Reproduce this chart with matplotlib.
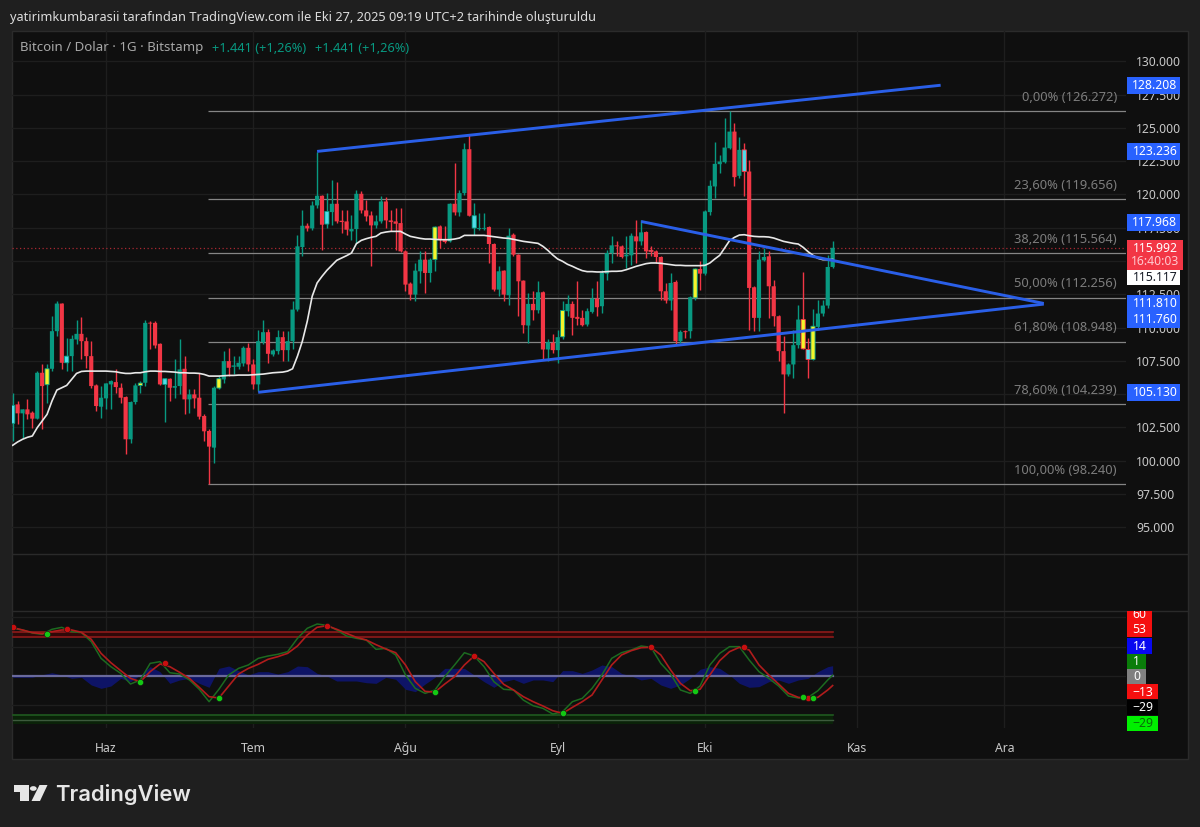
#!/usr/bin/env python3
import matplotlib
matplotlib.use('Agg')
import matplotlib.pyplot as plt
import matplotlib.dates as mdates
import numpy as np
import pandas as pd
from matplotlib.lines import Line2D
from matplotlib.patches import Circle, Polygon, Rectangle

# daily candles, May 13 -> Oct 27 2025
opens = [102800,104225,103550,103850,103600,103150,106600,105700,106900,109725,
         111800,107350,107850,109100,109525,108975,107850,105650,104050,104675,
         105725,105900,105475,104775,101600,104400,105650,105850,110350,110350,
         108775,105725,106150,105475,105600,106900,104600,104975,104725,103350,
         102225,100975,105450,106100,107475,107050,107050,107300,108475,107225,
         105725,108900,109650,107975,108225,109275,108300,108975,111350,116050,
         117650,117450,119175,119900,117775,118675,119300,118025,117975,117225,
         117400,120050,118800,118425,117675,117975,119475,118050,117975,117850,
         115725,113300,112475,114225,115100,114100,115100,117600,116650,116475,
         119300,118650,120100,123400,117475,117400,117425,117550,116275,112850,
         114275,112425,116975,115475,113525,110150,111775,111300,112650,108350,
         108850,108300,109300,111225,111775,110800,110725,110225,111175,112175,
         111600,114050,115600,116175,116100,115350,115425,116850,116475,117175,
         115800,115725,115300,112725,112025,113425,108975,109725,109725,112225,
         114400,114050,118675,120600,122275,122425,123475,124725,121400,123350,
         121725,113025,110725,115050,115350,113100,110850,108225,106475,107225,
         108675,110600,108350,107600,110050,111050,111650,114550]
closes = [104150,103550,103850,103475,103150,106600,105600,106900,109725,111800,
          107350,107850,109150,109525,108975,107850,105600,104100,104725,105800,
          105975,105525,104725,101600,104400,105650,105825,110350,110300,108650,
          105725,106150,105475,105600,106850,104600,104975,104675,103300,102200,
          101050,105475,106150,107475,106975,107150,107350,108475,107225,105725,
          108975,109650,108025,108275,109275,108300,108975,111350,116100,117650,
          117450,119175,119900,117725,118725,119300,117975,117925,117350,117400,
          120050,118800,118350,117675,117975,119475,118050,117925,117800,115725,
          113225,112475,114275,115100,114100,115100,117550,116600,116425,119300,
          118650,120100,123400,118400,118400,117475,117475,116275,112850,114225,
          112475,116900,115475,113475,110175,111775,111300,112650,108350,108900,
          108300,109275,111275,111775,110725,110650,110175,111225,112175,111525,
          114100,115600,116175,116100,115300,115475,116900,116475,117150,115725,
          115725,115300,112725,112025,113350,108975,109675,109650,112275,114400,
          114050,118725,120650,122300,122475,123525,124725,121300,123350,121725,
          112975,110725,115100,115300,113100,110850,108225,106475,107225,108675,
          110600,108400,107600,110100,111050,111650,114550,115992]
highs = [105100,104475,103850,104650,103725,106725,107225,107225,110850,111975,
         111850,109225,109475,110600,110800,109300,108975,105725,105600,105850,
         106025,106850,105850,104850,104475,105850,105975,110600,110475,110475,
         108850,106225,106225,107600,109100,107850,105350,105350,106600,103475,
         102350,105600,106350,108225,108475,107850,107850,108600,108850,107600,
         109850,110600,109900,108350,109850,109725,109725,111975,116975,118850,
         117850,119475,123225,119975,120100,121100,120925,118850,118850,118475,
         120350,120225,119600,118725,118475,119850,119800,118850,118975,118975,
         115850,113400,114850,115725,115725,115225,117650,117725,117650,119350,
         122350,120350,123850,124475,119350,118600,118600,117650,116350,114600,
         114350,117475,117100,115550,113600,112600,112725,113475,112725,109100,
         109525,109850,111975,112475,111975,113475,111350,111475,112975,113475,
         114350,115850,116850,116475,116225,116850,117100,118100,118050,117225,
         116100,115850,115350,113350,114100,113600,109850,109850,112350,114475,
         114975,118850,121100,123975,122975,125725,126272,125350,124350,123850,
         122600,113100,115725,115975,115725,113600,110975,109350,107350,109850,
         111725,114175,109225,111400,112100,112100,115475,116475]
lows = [101475,102725,101725,103100,102475,103100,102350,104350,106725,109350,
        106850,106725,106725,108725,107600,106975,105475,103725,103225,103850,
        103850,105100,104350,100475,101350,104225,105100,105600,108350,108475,
        105650,102900,104475,104725,104975,103475,103600,103975,103100,101475,
        98240,99800,105350,105850,106350,106475,106850,107100,106725,105350,
        105225,108725,107350,107850,107975,107475,107475,108350,111225,115350,
        117225,117300,118975,115800,117475,117725,117850,117100,116975,116600,
        116350,118600,117975,114600,117475,117850,117475,117225,115850,115650,
        112725,112050,111975,113350,112600,113400,114225,115975,116350,116400,
        118475,118350,119975,118350,116975,117350,117350,114850,112725,112350,
        111975,111725,115350,110850,109600,108850,110600,111100,107600,107475,
        108100,107300,109100,110850,109475,110225,110100,110100,111100,110850,
        111100,113600,114850,115350,115225,114475,114725,114850,116225,115225,
        115350,114850,112100,111850,111350,108725,108850,109225,109225,112100,
        112850,113975,118475,119725,121600,122350,123400,120650,121225,119850,
        109850,109725,109725,114975,110725,110100,107475,103600,106350,106225,
        108475,108350,106225,107550,109850,110850,111475,114475]
ma_line = [101150,101400,101600,101750,101850,102475,102975,103475,104475,105300,
           105475,105650,106100,106550,106700,106725,106725,106725,106725,106725,
           106700,106675,106600,106550,106550,106600,106600,106675,106725,106725,
           106700,106700,106675,106650,106600,106600,106575,106575,106550,106475,
           106350,106350,106350,106375,106400,106400,106425,106425,106425,106450,
           106475,106500,106550,106600,106625,106650,106725,106900,107850,108975,
           110475,112350,113350,113850,114300,114675,115050,115225,115400,115600,
           116300,116550,116675,116775,116850,117100,117175,117225,117225,117225,
           117025,116850,116775,116700,116650,116650,116625,116600,116600,116600,
           116650,116725,116925,116925,116925,116925,116925,116875,116825,116775,
           116725,116700,116625,116550,116475,116425,116375,116325,116100,115800,
           115450,115150,114975,114750,114600,114425,114275,114200,114200,114175,
           114175,114200,114225,114225,114250,114350,114475,114600,114700,114800,
           114850,114850,114825,114775,114725,114675,114675,114650,114650,114650,
           114650,114675,114850,115150,115425,115975,116525,116775,116950,116975,
           116900,116850,116825,116825,116800,116725,116600,116475,116400,116325,
           116275,116025,115700,115425,115200,115100,115100,115117]

# candle numbers (from 0) the indicator paints
cyan_candles = [0, 11, 31, 64, 94, 130, 149, 162]
yellow_candles = [7, 26, 42, 86, 112, 139, 161, 163]

# oscillator, read every second candle plus the last one
osc_candles = list(range(0, 168, 2)) + [167]
wt_green = [64.9,62.6,58.5,56.7,63.5,66.2,60.3,59.0,46.7,24.0,
            12.7,3.6,-10.9,-5.4,17.2,19.5,4.5,2.7,-5.4,-18.1,
            -34.9,-18.1,1.4,10.4,15.0,24.0,27.2,29.5,33.1,51.2,
            64.9,70.7,68.9,62.6,54.4,51.2,49.0,36.3,37.6,28.6,
            1.4,-16.8,-23.6,-19.0,-0.9,15.0,31.7,27.2,12.7,-7.7,
            -18.1,-19.0,-32.7,-40.4,-44.0,-51.7,-48.5,-34.9,-30.4,-16.8,
            1.4,24.0,31.7,35.4,40.8,39.0,17.2,2.7,-19.0,-23.6,
            -13.6,15.0,30.8,39.9,39.9,21.8,5.9,-3.2,-13.6,-27.2,
            -29.9,-29.0,-20.0,-5.4,1.0]
wt_red = [65.8,62.6,59.0,57.6,60.3,62.6,62.6,59.4,49.9,30.8,
          18.1,7.3,-3.2,-7.7,5.9,16.3,12.7,5.0,-3.2,-15.4,
          -28.1,-29.9,-13.6,2.7,10.4,15.9,22.7,26.3,30.8,40.8,
          55.8,66.2,68.5,63.5,58.0,52.6,49.0,42.6,36.7,31.7,
          15.0,-7.7,-20.9,-21.8,-10.9,-0.9,15.0,27.2,19.5,3.6,
          -11.3,-19.0,-28.1,-34.9,-40.8,-47.2,-50.8,-42.6,-34.9,-25.8,
          -5.4,15.0,28.6,34.5,38.5,39.0,28.6,8.2,-10.0,-20.0,
          -18.1,1.4,20.9,33.1,39.0,35.4,15.0,1.4,-10.9,-23.6,
          -29.0,-30.8,-29.0,-19.0,-13.0]
wt_area = [-1.8,-1.8,-1.8,1.8,4.5,1.4,-3.2,-1.8,-12.2,-16.8,
           -13.6,-3.2,-7.7,1.4,12.7,5.9,-10.0,-5.4,-3.2,-10.0,
           -15.4,10.4,13.6,7.3,1.4,5.9,5.9,2.7,5.9,13.6,
           12.7,3.6,0.0,-6.8,-6.8,-6.8,-9.1,-10.0,-1.8,-4.5,
           -18.1,-21.3,-10.9,-1.8,10.4,10.4,10.4,1.4,-7.7,-15.4,
           -7.7,-4.5,-10.0,-5.4,-5.4,-7.7,7.3,7.3,3.6,8.2,
           15.0,12.7,3.6,0.0,-5.4,-3.2,-12.2,-16.8,-12.2,-3.2,
           9.1,12.7,10.4,1.4,-10.0,-15.4,-14.5,-7.7,-5.4,-10.0,
           -5.4,-3.2,5.9,12.7,14.0]
red_cross_candles = [0, 11, 31, 64, 94, 130, 149, 162]
red_cross_values = [66.0, 63.5, 17.2, 68.5, 27.2, 39.0, 39.0, -30.4]
green_cross_candles = [7, 26, 42, 86, 112, 139, 161, 163]
green_cross_values = [56.7, -8.2, -29.9, -21.3, -50.8, -20.4, -29.0, -29.9]

fib_levels = [126272, 119656, 115564, 112256, 108948, 104239, 98240]
fib_labels = ['0,00% (126.272)', '23,60% (119.656)', '38,20% (115.564)', '50,00% (112.256)',
              '61,80% (108.948)', '78,60% (104.239)', '100,00% (98.240)']
osc_levels_red = [60, 53]
osc_levels_green = [-53, -60]
month_dates = ['2025-06-01', '2025-07-01', '2025-08-01', '2025-09-01', '2025-10-01', '2025-11-01', '2025-12-01']
month_labels = ['Haz', 'Tem', 'Ağu', 'Eyl', 'Eki', 'Kas', 'Ara']
price_ticks = np.arange(95000, 130001, 2500)
osc_grid = [80, 40, 0, -40]
last_price = 115992

W, H = 1200, 827
OUTER = '#1f1f1f'
PANE = '#0f0f0f'
GRID = '#1e1e1e'
UP = '#089981'
DOWN = '#f23645'
BLUE = '#2a5fe8'
FLAG_BLUE = '#2962ff'
FONT = ['Noto Sans', 'DejaVu Sans']
plt.rcParams['font.family'] = FONT

dates = pd.date_range('2025-05-13', periods=len(opens))
opens = np.array(opens)
closes = np.array(closes)
highs = np.array(highs)
lows = np.array(lows)
months = pd.to_datetime(month_dates)
osc_dates = dates[osc_candles]


def pane(x0, y0, x1, y1):
    # pixel box, y from the top of the picture
    ax = fig.add_axes([x0 / W, 1 - y1 / H, (x1 - x0) / W, (y1 - y0) / H])
    ax.patch.set_alpha(0)
    for s in ax.spines.values():
        s.set_visible(False)
    return ax


def sep(x0, y0, x1, y1, color='#2a2a2a', lw=1):
    fig.add_artist(Line2D([x0 / W, x1 / W], [1 - y0 / H, 1 - y1 / H], color=color, lw=lw,
                          transform=fig.transFigure, zorder=1))


def flag(x0, y0, x1, y1, color):
    r = Rectangle((x0 / W, 1 - y1 / H), (x1 - x0) / W, (y1 - y0) / H, facecolor=color, lw=0,
                  transform=fig.transFigure, zorder=5)
    fig.add_artist(r)
    return r


def flag_text(x, y, s, color='white', size=8.8, ha='center', weight='medium'):
    return fig.text(x / W, 1 - y / H, s, color=color, fontsize=size, ha=ha, va='center',
                    fontweight=weight, zorder=6)


fig = plt.figure(figsize=(12, 8.27), dpi=100, facecolor=OUTER)
fig.add_artist(Rectangle((12 / W, 1 - 759 / H), 1176 / W, 728 / H, facecolor=PANE, edgecolor='#2b2b2b',
                         lw=1, transform=fig.transFigure, zorder=-1))

ax = pane(12, 31, 1126, 554)
ax_gap = pane(12, 554, 1126, 611)
ax_osc = pane(12, 611, 1126, 728)

start = mdates.date2num(dates[0])
xlim = (start - 0.14, start + 226.75)
for a in (ax, ax_gap, ax_osc):
    a.set_xlim(*xlim)
    a.set_xticks(mdates.date2num(months))
    a.tick_params(axis='x', length=0, labelbottom=False)
    a.tick_params(axis='y', length=0)
    a.grid(axis='x', color=GRID, lw=1)
    a.set_axisbelow(True)
ax_gap.set_yticks([])

# main pane
ax.set_ylim(92980, 132284)
ax.set_yticks(price_ticks)
ax.yaxis.tick_right()
ax.set_yticklabels(['{:,}'.format(int(v)).replace(',', '.') for v in price_ticks])
ax.tick_params(axis='y', colors='#c8c8c8', labelsize=8.8, pad=7.5)
ax.grid(axis='y', color=GRID, lw=1)

ax.hlines(fib_levels, mdates.date2num(dates[40]) - 0.2, xlim[1], color='#858585', lw=0.9, zorder=2)
for lev, lab in zip(fib_levels, fib_labels):
    ax.annotate(lab, xy=(1, lev), xycoords=ax.get_yaxis_transform(), xytext=(-6.5, 10),
                textcoords='offset points', ha='right', va='center', color='#7d7d7d', fontsize=9.3)

ax.axhline(last_price, color='#a82832', lw=0.9, ls=(0, (1, 2)), zorder=2)

colors = np.where(closes >= opens, UP, DOWN)
ax.vlines(dates, lows, highs, colors=colors, lw=1, zorder=3)
body_low = np.minimum(opens, closes)
body_h = np.maximum(np.abs(closes - opens), 60)
width = 0.85
ax.bar(dates, body_h, bottom=body_low, width=width, color=colors, lw=0, zorder=4, snap=False)
ax.bar(dates[cyan_candles], body_h[cyan_candles], bottom=body_low[cyan_candles], width=width, color='#4fdde8',
       edgecolor=colors[cyan_candles], lw=0.6, zorder=5, snap=False)
ax.bar(dates[yellow_candles], body_h[yellow_candles], bottom=body_low[yellow_candles], width=width, color='#f5f52a',
       edgecolor=colors[yellow_candles], lw=0.6, zorder=5, snap=False)

ax.plot(dates, ma_line, color='#e8e8e8', lw=1.2, zorder=6)

# drawn trend lines
trend_a = pd.to_datetime(['2025-07-14', '2025-11-18'])
trend_b = pd.to_datetime(['2025-07-02', '2025-12-09'])
trend_c = pd.to_datetime(['2025-09-18', '2025-12-09'])
ax.plot(trend_a, [123236, 128208], color=BLUE, lw=2.1, solid_capstyle='butt', zorder=7)
ax.plot(trend_b, [105130, 111760], color=BLUE, lw=2.1, solid_capstyle='butt', zorder=7)
ax.plot(trend_c, [117968, 111810], color=BLUE, lw=2.1, solid_capstyle='butt', zorder=7)

# oscillator pane
ax_osc.set_ylim(-70.7, 88.4)
ax_osc.set_yticks(osc_grid)
ax_osc.tick_params(axis='y', labelright=False, labelleft=False)
ax_osc.grid(axis='y', color=GRID, lw=1)
ends = [dates[0], dates[-1]]
ax_osc.fill_between(ends, osc_levels_red[1], osc_levels_red[0], color='#300808', lw=0, zorder=2)
ax_osc.fill_between(ends, osc_levels_green[0], osc_levels_green[1] - 5.5, color='#0a2208', lw=0, zorder=2)
ax_osc.fill_between(osc_dates, 0, wt_area, color='#0e1466', lw=0, zorder=2.5)
for lev in osc_levels_red:
    ax_osc.plot(ends, [lev, lev], color='#8e1a1a', lw=1.2, zorder=3)
ax_osc.plot(ends, [osc_levels_green[0]] * 2, color='#1f5a1f', lw=1.2, zorder=3)
ax_osc.plot(ends, [osc_levels_green[1]] * 2, color='#3d5a3d', lw=1, zorder=3)
ax_osc.plot(ends, [0, 0], color='#6a6a9c', lw=1.6, zorder=3)
ax_osc.plot(osc_dates, wt_green, color='#1c6b20', lw=1.1, zorder=4)
ax_osc.plot(osc_dates, wt_red, color='#b01c1c', lw=1.2, zorder=5)
ax_osc.scatter(dates[red_cross_candles], red_cross_values, s=20, color='#c80f0f', edgecolors='#111111', lw=0.4, zorder=6)
ax_osc.scatter(dates[green_cross_candles], green_cross_values, s=20, color='#14c814', edgecolors='#111111', lw=0.4, zorder=6)

ax_osc.tick_params(axis='x', labelbottom=True, colors='#c8c8c8', labelsize=8.8, pad=10)
ax_osc.set_xticklabels(month_labels)

# pane separators
sep(12, 554, 1188, 554)
sep(12, 611, 1188, 611)

# price flags
flag(1127, 77, 1180, 94, FLAG_BLUE)
flag_text(1155, 85.5, '128.208')
flag(1127, 143, 1180, 160, FLAG_BLUE)
flag_text(1155, 151.5, '123.236')
flag(1127, 214, 1180, 231, FLAG_BLUE)
flag_text(1155, 222.5, '117.968')
flag(1127, 240, 1183, 270, '#f23645')
flag_text(1155, 248.5, '115.992')
flag_text(1155, 261.5, '16:40:03', color='#ffc9cf')
flag(1127, 270, 1180, 285, 'white')
flag_text(1155, 277.5, '115.117', color='#131722')
flag(1127, 295, 1180, 328, FLAG_BLUE)
flag_text(1155, 303.5, '111.810')
flag_text(1155, 319.5, '111.760')
flag(1127, 384, 1180, 401, FLAG_BLUE)
flag_text(1155, 392.5, '105.130')

# oscillator flags
box60 = flag(1127, 611, 1152, 623, '#f50f0f')
t60 = flag_text(1139.5, 614.5, '60')
t60.set_clip_path(box60)
flag(1127, 622, 1152, 637, '#f50f0f')
flag_text(1139.5, 629.5, '53')
flag(1127, 638, 1152, 654, '#0808f0')
flag_text(1139.5, 646, '14')
flag(1127, 654, 1146, 669, '#0a7d0a')
flag_text(1136.5, 661.5, '1')
flag(1127, 669, 1146, 684, '#808080')
flag_text(1136.5, 676.5, '0')
flag(1127, 684, 1158, 699, '#f50f0f')
flag_text(1142.5, 692, '−13')
flag(1127, 700, 1158, 715, '#000000')
flag_text(1142.5, 707.5, '−29')
flag(1127, 716, 1158, 731, '#00f000')
flag_text(1142.5, 723.5, '−29', color='#0a6a0a')

# header and legend
flag_text(10, 18, 'yatirimkumbarasii tarafından TradingView.com ile Eki 27, 2025 09:19 UTC+2 tarihinde oluşturuldu',
          color='#dcdcdc', size=9.2, ha='left', weight='normal')
flag_text(20, 48, 'Bitcoin / Dolar · 1G · Bitstamp', color='#a8a8a8', size=9.55, ha='left', weight='normal')
flag_text(212, 48, '+1.441 (+1,26%)', color=UP, size=9.2, ha='left', weight='normal')
flag_text(315, 48, '+1.441 (+1,26%)', color=UP, size=9.2, ha='left', weight='normal')

# logo
logo = '#e6e6e6'
def logo_pts(pts):
    return [(x / W, 1 - y / H) for x, y in pts]
fig.add_artist(Polygon(logo_pts([(13.5, 785), (28.5, 785), (28.5, 801), (20, 801), (20, 791.7), (13.5, 791.7)]),
                       facecolor=logo, lw=0, transform=fig.transFigure))
fig.add_artist(Polygon(logo_pts([(39.5, 785), (47.5, 785), (40, 801), (31.5, 801)]),
                       facecolor=logo, lw=0, transform=fig.transFigure))
fig.add_artist(Circle((33.3 / W, 1 - 788.5 / H), 3.4 / W, facecolor=logo, lw=0, transform=fig.transFigure))
fig.text(55 / W, 1 - 801 / H, 'TradingView', color=logo, fontsize=15.8, fontweight='semibold',
         family=['Inter', 'DejaVu Sans'], ha='left', va='baseline')

fig.savefig('out.png', dpi=100, facecolor=OUTER)
